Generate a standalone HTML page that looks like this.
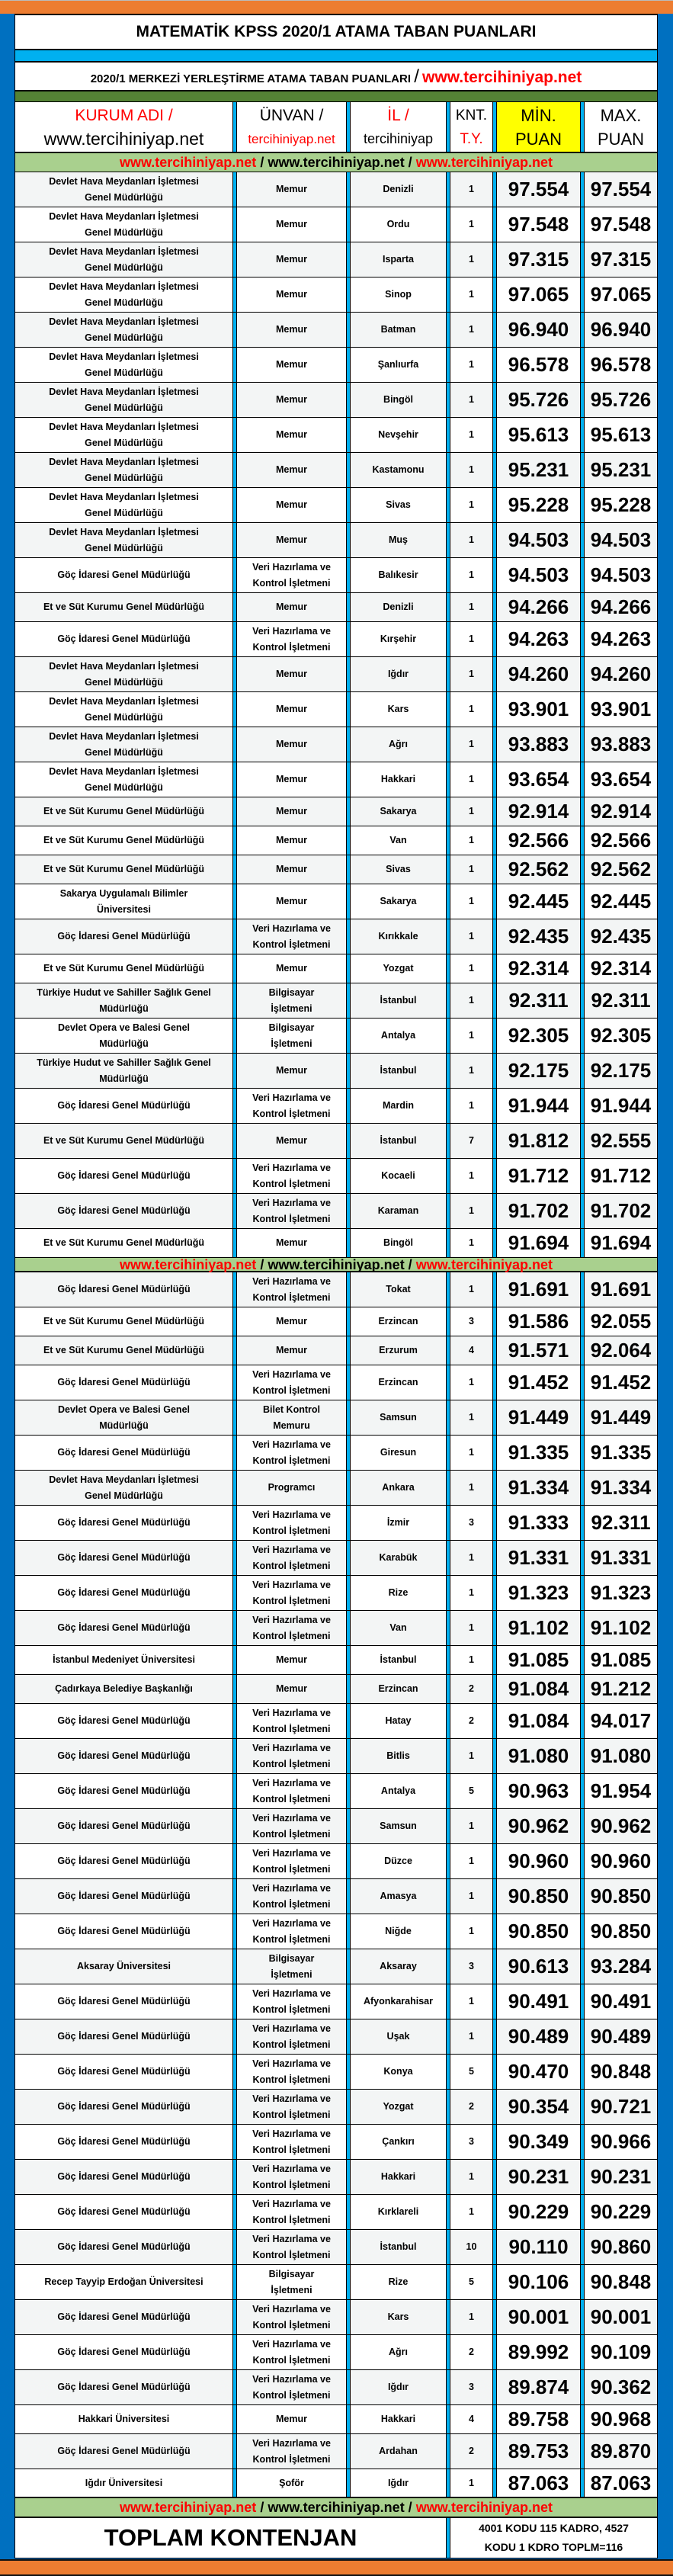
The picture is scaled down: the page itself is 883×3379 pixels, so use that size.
<!DOCTYPE html>
<html><head><meta charset="utf-8">
<style>
*{margin:0;padding:0;box-sizing:border-box}
html,body{width:883px;height:3379px;overflow:hidden}
body{background:#0070c0;position:relative;font-family:"Liberation Sans","DejaVu Sans",sans-serif;color:#000}
#top{position:absolute;left:0;top:0;width:883px;height:18px;background:#ed7d31;border-top:1px solid #bbb}
#bot{position:absolute;left:0;top:3357px;width:883px;height:22px;background:#ed7d31;border-top:2px solid #111;border-bottom:2px solid #111}
#t{position:absolute;left:19px;top:18px;width:844px;border:1px solid #000;border-top:2px solid #000;background:#fff}
.title{height:46px;border-bottom:2px solid #000;text-align:center;font-weight:bold;font-size:21px;line-height:44px}
.cyan{height:16px;background:#00b0f0;border-bottom:2px solid #000}
.sub{height:38px;border-bottom:2px solid #000;text-align:center;font-weight:bold;font-size:15px;line-height:38px;white-space:nowrap}
.sub .red{color:#f00;font-size:21px}
.sub .sl{font-size:24px;font-weight:normal}
.dg{height:14px;background:#548235;border-bottom:1px solid #000}
.ban{height:26px;background:#a9d08e;border-bottom:1px solid #000;border-top:1px solid #000;text-align:center;font-weight:bold;font-size:18px;line-height:25px;white-space:nowrap}
.ban .red{color:#f00}
.r{display:flex;border-bottom:1px solid #000;height:46px}
.r.s{height:38px}
.r.g{background:#f3f5f5}
.r>div{display:flex;align-items:center;justify-content:center;text-align:center;font-weight:bold;font-size:12.5px;line-height:21px;overflow:hidden}
.r>i{width:6px;background:#00b0f0;border-left:1px solid #000;border-right:1px solid #000;flex:none}
.c1{width:285px}.c2{width:143px}.c3{width:125px}.c4{width:55px}.c5{width:109px}.c6{width:95px}
.r>.c5,.r>.c6{font-size:26px}
.hd{height:66px;border-bottom:1px solid #000;background:#fff}
.hd>div{font-weight:normal;font-size:21px;line-height:31px;flex-direction:column;white-space:nowrap}
.hd .red{color:#f00}
.hd>.c5{background:#ff0;font-size:22px}
.hd>.c6{font-size:22px}
.tot{display:flex;height:52px;background:#fff}
.tot .l{width:565px;display:flex;align-items:center;justify-content:center;font-weight:bold;font-size:31px}
.tot i{width:6px;background:#00b0f0;border-left:1px solid #000;border-right:1px solid #000}
.tot .rt{width:271px;text-align:center;font-weight:bold;font-size:14px;line-height:25px;padding-top:1px;white-space:nowrap}
</style></head><body>
<div id="top"></div>
<div id="t">
<div class="title">MATEMATİK KPSS 2020/1 ATAMA TABAN PUANLARI</div>
<div class="cyan"></div>
<div class="sub">2020/1 MERKEZİ YERLEŞTİRME ATAMA TABAN PUANLARI <span class="sl">/</span> <span class="red">www.tercihiniyap.net</span></div>
<div class="dg"></div>
<div class="r hd"><div class="c1"><span class="red">KURUM ADI /</span><span style="font-size:23px">www.tercihiniyap.net</span></div><i></i><div class="c2"><span>ÜNVAN /</span><span class="red" style="font-size:17px">tercihiniyap.net</span></div><i></i><div class="c3"><span class="red">İL /</span><span style="font-size:18px">tercihiniyap</span></div><i></i><div class="c4" style="font-size:19px"><span>KNT.</span><span class="red">T.Y.</span></div><i></i><div class="c5"><span>MİN.</span><span>PUAN</span></div><i></i><div class="c6"><span>MAX.</span><span>PUAN</span></div></div>
<div class="ban"><span class="red">www.tercihiniyap.net</span> / www.tercihiniyap.net / <span class="red">www.tercihiniyap.net</span></div>

<div class="r g"><div class="c1">Devlet Hava Meydanları İşletmesi<br>Genel Müdürlüğü</div><i></i><div class="c2">Memur</div><i></i><div class="c3">Denizli</div><i></i><div class="c4">1</div><i></i><div class="c5">97.554</div><i></i><div class="c6">97.554</div></div>
<div class="r"><div class="c1">Devlet Hava Meydanları İşletmesi<br>Genel Müdürlüğü</div><i></i><div class="c2">Memur</div><i></i><div class="c3">Ordu</div><i></i><div class="c4">1</div><i></i><div class="c5">97.548</div><i></i><div class="c6">97.548</div></div>
<div class="r g"><div class="c1">Devlet Hava Meydanları İşletmesi<br>Genel Müdürlüğü</div><i></i><div class="c2">Memur</div><i></i><div class="c3">Isparta</div><i></i><div class="c4">1</div><i></i><div class="c5">97.315</div><i></i><div class="c6">97.315</div></div>
<div class="r"><div class="c1">Devlet Hava Meydanları İşletmesi<br>Genel Müdürlüğü</div><i></i><div class="c2">Memur</div><i></i><div class="c3">Sinop</div><i></i><div class="c4">1</div><i></i><div class="c5">97.065</div><i></i><div class="c6">97.065</div></div>
<div class="r g"><div class="c1">Devlet Hava Meydanları İşletmesi<br>Genel Müdürlüğü</div><i></i><div class="c2">Memur</div><i></i><div class="c3">Batman</div><i></i><div class="c4">1</div><i></i><div class="c5">96.940</div><i></i><div class="c6">96.940</div></div>
<div class="r"><div class="c1">Devlet Hava Meydanları İşletmesi<br>Genel Müdürlüğü</div><i></i><div class="c2">Memur</div><i></i><div class="c3">Şanlıurfa</div><i></i><div class="c4">1</div><i></i><div class="c5">96.578</div><i></i><div class="c6">96.578</div></div>
<div class="r g"><div class="c1">Devlet Hava Meydanları İşletmesi<br>Genel Müdürlüğü</div><i></i><div class="c2">Memur</div><i></i><div class="c3">Bingöl</div><i></i><div class="c4">1</div><i></i><div class="c5">95.726</div><i></i><div class="c6">95.726</div></div>
<div class="r"><div class="c1">Devlet Hava Meydanları İşletmesi<br>Genel Müdürlüğü</div><i></i><div class="c2">Memur</div><i></i><div class="c3">Nevşehir</div><i></i><div class="c4">1</div><i></i><div class="c5">95.613</div><i></i><div class="c6">95.613</div></div>
<div class="r g"><div class="c1">Devlet Hava Meydanları İşletmesi<br>Genel Müdürlüğü</div><i></i><div class="c2">Memur</div><i></i><div class="c3">Kastamonu</div><i></i><div class="c4">1</div><i></i><div class="c5">95.231</div><i></i><div class="c6">95.231</div></div>
<div class="r"><div class="c1">Devlet Hava Meydanları İşletmesi<br>Genel Müdürlüğü</div><i></i><div class="c2">Memur</div><i></i><div class="c3">Sivas</div><i></i><div class="c4">1</div><i></i><div class="c5">95.228</div><i></i><div class="c6">95.228</div></div>
<div class="r g"><div class="c1">Devlet Hava Meydanları İşletmesi<br>Genel Müdürlüğü</div><i></i><div class="c2">Memur</div><i></i><div class="c3">Muş</div><i></i><div class="c4">1</div><i></i><div class="c5">94.503</div><i></i><div class="c6">94.503</div></div>
<div class="r"><div class="c1">Göç İdaresi Genel Müdürlüğü</div><i></i><div class="c2">Veri Hazırlama ve<br>Kontrol İşletmeni</div><i></i><div class="c3">Balıkesir</div><i></i><div class="c4">1</div><i></i><div class="c5">94.503</div><i></i><div class="c6">94.503</div></div>
<div class="r g s"><div class="c1">Et ve Süt Kurumu Genel Müdürlüğü</div><i></i><div class="c2">Memur</div><i></i><div class="c3">Denizli</div><i></i><div class="c4">1</div><i></i><div class="c5">94.266</div><i></i><div class="c6">94.266</div></div>
<div class="r"><div class="c1">Göç İdaresi Genel Müdürlüğü</div><i></i><div class="c2">Veri Hazırlama ve<br>Kontrol İşletmeni</div><i></i><div class="c3">Kırşehir</div><i></i><div class="c4">1</div><i></i><div class="c5">94.263</div><i></i><div class="c6">94.263</div></div>
<div class="r g"><div class="c1">Devlet Hava Meydanları İşletmesi<br>Genel Müdürlüğü</div><i></i><div class="c2">Memur</div><i></i><div class="c3">Iğdır</div><i></i><div class="c4">1</div><i></i><div class="c5">94.260</div><i></i><div class="c6">94.260</div></div>
<div class="r"><div class="c1">Devlet Hava Meydanları İşletmesi<br>Genel Müdürlüğü</div><i></i><div class="c2">Memur</div><i></i><div class="c3">Kars</div><i></i><div class="c4">1</div><i></i><div class="c5">93.901</div><i></i><div class="c6">93.901</div></div>
<div class="r g"><div class="c1">Devlet Hava Meydanları İşletmesi<br>Genel Müdürlüğü</div><i></i><div class="c2">Memur</div><i></i><div class="c3">Ağrı</div><i></i><div class="c4">1</div><i></i><div class="c5">93.883</div><i></i><div class="c6">93.883</div></div>
<div class="r"><div class="c1">Devlet Hava Meydanları İşletmesi<br>Genel Müdürlüğü</div><i></i><div class="c2">Memur</div><i></i><div class="c3">Hakkari</div><i></i><div class="c4">1</div><i></i><div class="c5">93.654</div><i></i><div class="c6">93.654</div></div>
<div class="r g s"><div class="c1">Et ve Süt Kurumu Genel Müdürlüğü</div><i></i><div class="c2">Memur</div><i></i><div class="c3">Sakarya</div><i></i><div class="c4">1</div><i></i><div class="c5">92.914</div><i></i><div class="c6">92.914</div></div>
<div class="r s"><div class="c1">Et ve Süt Kurumu Genel Müdürlüğü</div><i></i><div class="c2">Memur</div><i></i><div class="c3">Van</div><i></i><div class="c4">1</div><i></i><div class="c5">92.566</div><i></i><div class="c6">92.566</div></div>
<div class="r g s"><div class="c1">Et ve Süt Kurumu Genel Müdürlüğü</div><i></i><div class="c2">Memur</div><i></i><div class="c3">Sivas</div><i></i><div class="c4">1</div><i></i><div class="c5">92.562</div><i></i><div class="c6">92.562</div></div>
<div class="r"><div class="c1">Sakarya Uygulamalı Bilimler<br>Üniversitesi</div><i></i><div class="c2">Memur</div><i></i><div class="c3">Sakarya</div><i></i><div class="c4">1</div><i></i><div class="c5">92.445</div><i></i><div class="c6">92.445</div></div>
<div class="r g"><div class="c1">Göç İdaresi Genel Müdürlüğü</div><i></i><div class="c2">Veri Hazırlama ve<br>Kontrol İşletmeni</div><i></i><div class="c3">Kırıkkale</div><i></i><div class="c4">1</div><i></i><div class="c5">92.435</div><i></i><div class="c6">92.435</div></div>
<div class="r s"><div class="c1">Et ve Süt Kurumu Genel Müdürlüğü</div><i></i><div class="c2">Memur</div><i></i><div class="c3">Yozgat</div><i></i><div class="c4">1</div><i></i><div class="c5">92.314</div><i></i><div class="c6">92.314</div></div>
<div class="r g"><div class="c1">Türkiye Hudut ve Sahiller Sağlık Genel<br>Müdürlüğü</div><i></i><div class="c2">Bilgisayar<br>İşletmeni</div><i></i><div class="c3">İstanbul</div><i></i><div class="c4">1</div><i></i><div class="c5">92.311</div><i></i><div class="c6">92.311</div></div>
<div class="r"><div class="c1">Devlet Opera ve Balesi Genel<br>Müdürlüğü</div><i></i><div class="c2">Bilgisayar<br>İşletmeni</div><i></i><div class="c3">Antalya</div><i></i><div class="c4">1</div><i></i><div class="c5">92.305</div><i></i><div class="c6">92.305</div></div>
<div class="r g"><div class="c1">Türkiye Hudut ve Sahiller Sağlık Genel<br>Müdürlüğü</div><i></i><div class="c2">Memur</div><i></i><div class="c3">İstanbul</div><i></i><div class="c4">1</div><i></i><div class="c5">92.175</div><i></i><div class="c6">92.175</div></div>
<div class="r"><div class="c1">Göç İdaresi Genel Müdürlüğü</div><i></i><div class="c2">Veri Hazırlama ve<br>Kontrol İşletmeni</div><i></i><div class="c3">Mardin</div><i></i><div class="c4">1</div><i></i><div class="c5">91.944</div><i></i><div class="c6">91.944</div></div>
<div class="r g"><div class="c1">Et ve Süt Kurumu Genel Müdürlüğü</div><i></i><div class="c2">Memur</div><i></i><div class="c3">İstanbul</div><i></i><div class="c4">7</div><i></i><div class="c5">91.812</div><i></i><div class="c6">92.555</div></div>
<div class="r"><div class="c1">Göç İdaresi Genel Müdürlüğü</div><i></i><div class="c2">Veri Hazırlama ve<br>Kontrol İşletmeni</div><i></i><div class="c3">Kocaeli</div><i></i><div class="c4">1</div><i></i><div class="c5">91.712</div><i></i><div class="c6">91.712</div></div>
<div class="r g"><div class="c1">Göç İdaresi Genel Müdürlüğü</div><i></i><div class="c2">Veri Hazırlama ve<br>Kontrol İşletmeni</div><i></i><div class="c3">Karaman</div><i></i><div class="c4">1</div><i></i><div class="c5">91.702</div><i></i><div class="c6">91.702</div></div>
<div class="r s"><div class="c1">Et ve Süt Kurumu Genel Müdürlüğü</div><i></i><div class="c2">Memur</div><i></i><div class="c3">Bingöl</div><i></i><div class="c4">1</div><i></i><div class="c5">91.694</div><i></i><div class="c6">91.694</div></div>

<div class="ban" style="height:19px;line-height:18px;border-top:0;border-bottom:2px solid #000">
<span class="red">www.tercihiniyap.net</span> / www.tercihiniyap.net / <span class="red">www.tercihiniyap.net</span></div>

<div class="r g"><div class="c1">Göç İdaresi Genel Müdürlüğü</div><i></i><div class="c2">Veri Hazırlama ve<br>Kontrol İşletmeni</div><i></i><div class="c3">Tokat</div><i></i><div class="c4">1</div><i></i><div class="c5">91.691</div><i></i><div class="c6">91.691</div></div>
<div class="r s"><div class="c1">Et ve Süt Kurumu Genel Müdürlüğü</div><i></i><div class="c2">Memur</div><i></i><div class="c3">Erzincan</div><i></i><div class="c4">3</div><i></i><div class="c5">91.586</div><i></i><div class="c6">92.055</div></div>
<div class="r g s"><div class="c1">Et ve Süt Kurumu Genel Müdürlüğü</div><i></i><div class="c2">Memur</div><i></i><div class="c3">Erzurum</div><i></i><div class="c4">4</div><i></i><div class="c5">91.571</div><i></i><div class="c6">92.064</div></div>
<div class="r"><div class="c1">Göç İdaresi Genel Müdürlüğü</div><i></i><div class="c2">Veri Hazırlama ve<br>Kontrol İşletmeni</div><i></i><div class="c3">Erzincan</div><i></i><div class="c4">1</div><i></i><div class="c5">91.452</div><i></i><div class="c6">91.452</div></div>
<div class="r g"><div class="c1">Devlet Opera ve Balesi Genel<br>Müdürlüğü</div><i></i><div class="c2">Bilet Kontrol<br>Memuru</div><i></i><div class="c3">Samsun</div><i></i><div class="c4">1</div><i></i><div class="c5">91.449</div><i></i><div class="c6">91.449</div></div>
<div class="r"><div class="c1">Göç İdaresi Genel Müdürlüğü</div><i></i><div class="c2">Veri Hazırlama ve<br>Kontrol İşletmeni</div><i></i><div class="c3">Giresun</div><i></i><div class="c4">1</div><i></i><div class="c5">91.335</div><i></i><div class="c6">91.335</div></div>
<div class="r g"><div class="c1">Devlet Hava Meydanları İşletmesi<br>Genel Müdürlüğü</div><i></i><div class="c2">Programcı</div><i></i><div class="c3">Ankara</div><i></i><div class="c4">1</div><i></i><div class="c5">91.334</div><i></i><div class="c6">91.334</div></div>
<div class="r"><div class="c1">Göç İdaresi Genel Müdürlüğü</div><i></i><div class="c2">Veri Hazırlama ve<br>Kontrol İşletmeni</div><i></i><div class="c3">İzmir</div><i></i><div class="c4">3</div><i></i><div class="c5">91.333</div><i></i><div class="c6">92.311</div></div>
<div class="r g"><div class="c1">Göç İdaresi Genel Müdürlüğü</div><i></i><div class="c2">Veri Hazırlama ve<br>Kontrol İşletmeni</div><i></i><div class="c3">Karabük</div><i></i><div class="c4">1</div><i></i><div class="c5">91.331</div><i></i><div class="c6">91.331</div></div>
<div class="r"><div class="c1">Göç İdaresi Genel Müdürlüğü</div><i></i><div class="c2">Veri Hazırlama ve<br>Kontrol İşletmeni</div><i></i><div class="c3">Rize</div><i></i><div class="c4">1</div><i></i><div class="c5">91.323</div><i></i><div class="c6">91.323</div></div>
<div class="r g"><div class="c1">Göç İdaresi Genel Müdürlüğü</div><i></i><div class="c2">Veri Hazırlama ve<br>Kontrol İşletmeni</div><i></i><div class="c3">Van</div><i></i><div class="c4">1</div><i></i><div class="c5">91.102</div><i></i><div class="c6">91.102</div></div>
<div class="r s"><div class="c1">İstanbul Medeniyet Üniversitesi</div><i></i><div class="c2">Memur</div><i></i><div class="c3">İstanbul</div><i></i><div class="c4">1</div><i></i><div class="c5">91.085</div><i></i><div class="c6">91.085</div></div>
<div class="r g s"><div class="c1">Çadırkaya Belediye Başkanlığı</div><i></i><div class="c2">Memur</div><i></i><div class="c3">Erzincan</div><i></i><div class="c4">2</div><i></i><div class="c5">91.084</div><i></i><div class="c6">91.212</div></div>
<div class="r"><div class="c1">Göç İdaresi Genel Müdürlüğü</div><i></i><div class="c2">Veri Hazırlama ve<br>Kontrol İşletmeni</div><i></i><div class="c3">Hatay</div><i></i><div class="c4">2</div><i></i><div class="c5">91.084</div><i></i><div class="c6">94.017</div></div>
<div class="r g"><div class="c1">Göç İdaresi Genel Müdürlüğü</div><i></i><div class="c2">Veri Hazırlama ve<br>Kontrol İşletmeni</div><i></i><div class="c3">Bitlis</div><i></i><div class="c4">1</div><i></i><div class="c5">91.080</div><i></i><div class="c6">91.080</div></div>
<div class="r"><div class="c1">Göç İdaresi Genel Müdürlüğü</div><i></i><div class="c2">Veri Hazırlama ve<br>Kontrol İşletmeni</div><i></i><div class="c3">Antalya</div><i></i><div class="c4">5</div><i></i><div class="c5">90.963</div><i></i><div class="c6">91.954</div></div>
<div class="r g"><div class="c1">Göç İdaresi Genel Müdürlüğü</div><i></i><div class="c2">Veri Hazırlama ve<br>Kontrol İşletmeni</div><i></i><div class="c3">Samsun</div><i></i><div class="c4">1</div><i></i><div class="c5">90.962</div><i></i><div class="c6">90.962</div></div>
<div class="r"><div class="c1">Göç İdaresi Genel Müdürlüğü</div><i></i><div class="c2">Veri Hazırlama ve<br>Kontrol İşletmeni</div><i></i><div class="c3">Düzce</div><i></i><div class="c4">1</div><i></i><div class="c5">90.960</div><i></i><div class="c6">90.960</div></div>
<div class="r g"><div class="c1">Göç İdaresi Genel Müdürlüğü</div><i></i><div class="c2">Veri Hazırlama ve<br>Kontrol İşletmeni</div><i></i><div class="c3">Amasya</div><i></i><div class="c4">1</div><i></i><div class="c5">90.850</div><i></i><div class="c6">90.850</div></div>
<div class="r"><div class="c1">Göç İdaresi Genel Müdürlüğü</div><i></i><div class="c2">Veri Hazırlama ve<br>Kontrol İşletmeni</div><i></i><div class="c3">Niğde</div><i></i><div class="c4">1</div><i></i><div class="c5">90.850</div><i></i><div class="c6">90.850</div></div>
<div class="r g"><div class="c1">Aksaray Üniversitesi</div><i></i><div class="c2">Bilgisayar<br>İşletmeni</div><i></i><div class="c3">Aksaray</div><i></i><div class="c4">3</div><i></i><div class="c5">90.613</div><i></i><div class="c6">93.284</div></div>
<div class="r"><div class="c1">Göç İdaresi Genel Müdürlüğü</div><i></i><div class="c2">Veri Hazırlama ve<br>Kontrol İşletmeni</div><i></i><div class="c3">Afyonkarahisar</div><i></i><div class="c4">1</div><i></i><div class="c5">90.491</div><i></i><div class="c6">90.491</div></div>
<div class="r g"><div class="c1">Göç İdaresi Genel Müdürlüğü</div><i></i><div class="c2">Veri Hazırlama ve<br>Kontrol İşletmeni</div><i></i><div class="c3">Uşak</div><i></i><div class="c4">1</div><i></i><div class="c5">90.489</div><i></i><div class="c6">90.489</div></div>
<div class="r"><div class="c1">Göç İdaresi Genel Müdürlüğü</div><i></i><div class="c2">Veri Hazırlama ve<br>Kontrol İşletmeni</div><i></i><div class="c3">Konya</div><i></i><div class="c4">5</div><i></i><div class="c5">90.470</div><i></i><div class="c6">90.848</div></div>
<div class="r g"><div class="c1">Göç İdaresi Genel Müdürlüğü</div><i></i><div class="c2">Veri Hazırlama ve<br>Kontrol İşletmeni</div><i></i><div class="c3">Yozgat</div><i></i><div class="c4">2</div><i></i><div class="c5">90.354</div><i></i><div class="c6">90.721</div></div>
<div class="r"><div class="c1">Göç İdaresi Genel Müdürlüğü</div><i></i><div class="c2">Veri Hazırlama ve<br>Kontrol İşletmeni</div><i></i><div class="c3">Çankırı</div><i></i><div class="c4">3</div><i></i><div class="c5">90.349</div><i></i><div class="c6">90.966</div></div>
<div class="r g"><div class="c1">Göç İdaresi Genel Müdürlüğü</div><i></i><div class="c2">Veri Hazırlama ve<br>Kontrol İşletmeni</div><i></i><div class="c3">Hakkari</div><i></i><div class="c4">1</div><i></i><div class="c5">90.231</div><i></i><div class="c6">90.231</div></div>
<div class="r"><div class="c1">Göç İdaresi Genel Müdürlüğü</div><i></i><div class="c2">Veri Hazırlama ve<br>Kontrol İşletmeni</div><i></i><div class="c3">Kırklareli</div><i></i><div class="c4">1</div><i></i><div class="c5">90.229</div><i></i><div class="c6">90.229</div></div>
<div class="r g"><div class="c1">Göç İdaresi Genel Müdürlüğü</div><i></i><div class="c2">Veri Hazırlama ve<br>Kontrol İşletmeni</div><i></i><div class="c3">İstanbul</div><i></i><div class="c4">10</div><i></i><div class="c5">90.110</div><i></i><div class="c6">90.860</div></div>
<div class="r"><div class="c1">Recep Tayyip Erdoğan Üniversitesi</div><i></i><div class="c2">Bilgisayar<br>İşletmeni</div><i></i><div class="c3">Rize</div><i></i><div class="c4">5</div><i></i><div class="c5">90.106</div><i></i><div class="c6">90.848</div></div>
<div class="r g"><div class="c1">Göç İdaresi Genel Müdürlüğü</div><i></i><div class="c2">Veri Hazırlama ve<br>Kontrol İşletmeni</div><i></i><div class="c3">Kars</div><i></i><div class="c4">1</div><i></i><div class="c5">90.001</div><i></i><div class="c6">90.001</div></div>
<div class="r"><div class="c1">Göç İdaresi Genel Müdürlüğü</div><i></i><div class="c2">Veri Hazırlama ve<br>Kontrol İşletmeni</div><i></i><div class="c3">Ağrı</div><i></i><div class="c4">2</div><i></i><div class="c5">89.992</div><i></i><div class="c6">90.109</div></div>
<div class="r g"><div class="c1">Göç İdaresi Genel Müdürlüğü</div><i></i><div class="c2">Veri Hazırlama ve<br>Kontrol İşletmeni</div><i></i><div class="c3">Iğdır</div><i></i><div class="c4">3</div><i></i><div class="c5">89.874</div><i></i><div class="c6">90.362</div></div>
<div class="r s"><div class="c1">Hakkari Üniversitesi</div><i></i><div class="c2">Memur</div><i></i><div class="c3">Hakkari</div><i></i><div class="c4">4</div><i></i><div class="c5">89.758</div><i></i><div class="c6">90.968</div></div>
<div class="r g"><div class="c1">Göç İdaresi Genel Müdürlüğü</div><i></i><div class="c2">Veri Hazırlama ve<br>Kontrol İşletmeni</div><i></i><div class="c3">Ardahan</div><i></i><div class="c4">2</div><i></i><div class="c5">89.753</div><i></i><div class="c6">89.870</div></div>
<div class="r s" style="border-bottom:2px solid #000"><div class="c1">Iğdır Üniversitesi</div><i></i><div class="c2">Şoför</div><i></i><div class="c3">Iğdır</div><i></i><div class="c4">1</div><i></i><div class="c5">87.063</div><i></i><div class="c6">87.063</div></div>

<div class="ban" style="border-top:0;border-bottom:2px solid #000"><span class="red">www.tercihiniyap.net</span> / www.tercihiniyap.net / <span class="red">www.tercihiniyap.net</span></div>
<div class="tot"><div class="l">TOPLAM KONTENJAN</div><i></i><div class="rt">4001 KODU 115 KADRO, 4527<br>KODU 1 KDRO TOPLM=116</div></div>
</div>
<div id="bot"></div>
</body></html>
